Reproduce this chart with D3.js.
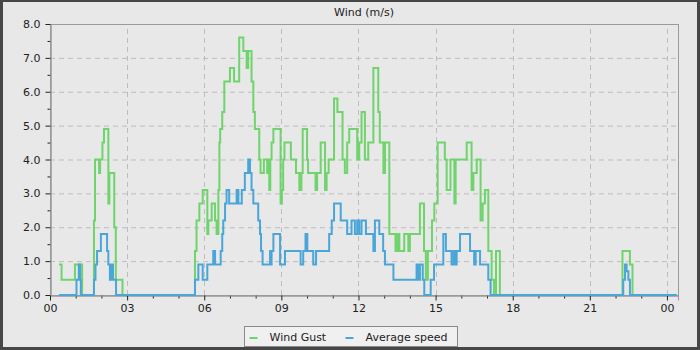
<!DOCTYPE html>
<html>
<head>
<meta charset="utf-8">
<title>Wind (m/s)</title>
<script src="https://d3js.org/d3.v7.min.js"></script>
<style>
html, body { margin: 0; padding: 0; background: #464646; }
svg { display: block; font-family: "DejaVu Sans", sans-serif; }
</style>
</head>
<body>
<div id="chart"></div>
<script>
// hours since 00:00, value in m/s (step changes)
var gustTimes = [0.35, 0.45, 0.97, 1.25, 1.71, 1.75, 1.91, 1.95, 2.04, 2.10, 2.27, 2.31, 2.50, 2.56, 2.82,
  5.64, 5.70, 5.81, 5.94, 6.12, 6.16, 6.29, 6.42, 6.48, 6.55, 6.59, 6.62, 6.70, 6.78, 7.00, 7.16, 7.36, 7.52, 7.65, 7.71, 7.84, 7.91, 7.97,
  8.14, 8.19, 8.32, 8.45, 8.50, 8.53, 8.57, 8.62, 8.69, 8.97, 9.02, 9.07, 9.12, 9.37, 9.57, 9.70, 9.78, 9.83,
  10.00, 10.04, 10.33, 10.39, 10.53, 10.70, 10.76, 10.84, 11.05, 11.18, 11.38, 11.47, 11.56, 11.64, 11.95,
  12.03, 12.12, 12.25, 12.38, 12.58, 12.77, 12.83, 12.97, 13.03, 13.20, 13.44, 13.52, 13.59, 13.78, 13.94, 14.00,
  14.39, 14.55, 14.62, 14.70, 14.86, 14.95, 15.08, 15.36, 15.43, 15.58, 15.73, 15.78, 16.21, 16.40, 16.47, 16.60,
  16.75, 16.83, 16.92, 17.05, 17.18, 17.27, 17.35, 17.50, 22.27, 22.56, 22.66, 24.38];
var gustValues = [0.9, 0.45, 0.9, 0, 2.2, 4.0, 3.6, 4.0, 4.5, 4.9, 2.7, 3.6, 2.0, 0.45, 0,
  1.3, 2.2, 2.7, 3.1, 1.8, 2.2, 2.7, 2.2, 1.8, 3.1, 4.5, 4.9, 5.4, 6.3, 6.7, 6.3, 7.6, 7.2, 6.7, 7.2, 6.3, 5.4, 4.9,
  4.0, 3.6, 4.0, 3.6, 4.0, 3.1, 4.0, 4.5, 4.9, 2.7, 3.1, 4.0, 4.5, 4.0, 3.6, 3.1, 3.6, 4.9,
  4.0, 3.6, 3.1, 3.6, 4.5, 3.1, 3.6, 4.0, 5.8, 5.4, 4.0, 3.6, 4.5, 4.9, 4.0,
  4.5, 5.4, 4.0, 4.5, 6.7, 5.4, 4.5, 3.6, 4.5, 1.8, 1.3, 1.8, 1.3, 1.8, 1.3, 1.8,
  2.7, 1.3, 0.45, 1.3, 2.2, 2.7, 4.5, 4.0, 3.1, 4.0, 2.7, 4.0, 4.5, 3.1, 3.6, 4.0,
  2.2, 2.7, 3.1, 1.3, 0.45, 0, 1.3, 0, 1.3, 0.9, 0, 0];

var avgTimes = [0.35, 1.03, 1.12, 1.17, 1.20, 1.71, 1.77, 1.83, 1.98, 2.22, 2.27, 2.33, 2.39, 2.45, 2.57,
  5.64, 5.77, 5.94, 6.12, 6.35, 6.42, 6.64, 6.70, 6.74, 6.81, 6.87, 6.97, 7.26, 7.33, 7.46, 7.58, 7.71, 7.78, 7.84, 7.91,
  8.10, 8.17, 8.21, 8.27, 8.56, 8.58, 8.62, 8.69, 8.95, 9.14, 9.75, 9.85, 9.94, 10.01, 10.24, 10.35,
  10.86, 10.96, 11.05, 11.31, 11.56, 11.73, 11.86, 11.95, 12.03, 12.12, 12.29, 12.58, 12.64, 12.81, 12.96, 13.03, 13.36,
  14.26, 14.33, 14.39, 14.50, 14.56, 14.81, 14.94, 15.30, 15.40, 15.62, 15.70, 15.75, 15.82, 15.95, 16.34, 16.50, 16.56,
  16.73, 17.05, 17.14, 22.30, 22.37, 22.43, 22.50, 22.56, 24.38];
var avgValues = [0, 0.45, 0.9, 0.45, 0, 0.45, 0.9, 1.3, 1.8, 1.3, 0.9, 0.45, 0.9, 0.45, 0,
  0.45, 0.9, 0.45, 0.9, 1.3, 0.9, 1.3, 1.8, 2.2, 2.7, 3.1, 2.7, 3.1, 2.7, 3.1, 3.6, 4.0, 3.6, 3.1, 2.7,
  2.2, 1.8, 1.3, 0.9, 1.3, 0.9, 1.3, 1.8, 0.9, 1.3, 0.9, 1.3, 1.8, 1.3, 0.9, 1.3,
  1.8, 2.2, 2.7, 2.2, 1.8, 2.2, 1.8, 2.2, 1.8, 2.2, 1.8, 1.3, 2.2, 1.8, 1.3, 0.9, 0.45,
  0.9, 0.45, 0.9, 0.45, 0, 0.45, 0.9, 1.8, 1.3, 0.9, 1.3, 0.9, 1.3, 1.8, 1.3, 0.9, 1.3,
  0.9, 0.45, 0, 0.45, 0.9, 0.7, 0.45, 0, 0];

var xTickHours = [0, 3, 6, 9, 12, 15, 18, 21, 24];
var yTicks = [0, 1, 2, 3, 4, 5, 6, 7, 8];
var seriesNames = ["Wind Gust", "Average speed"];
var seriesColors = ["#6fd46c", "#4aa6d9"];

var width = 700, height = 350;
var margin = {top: 24, right: 22, bottom: 55, left: 50};

var svg = d3.select("#chart").append("svg")
    .attr("width", width)
    .attr("height", height);

// outer frame
svg.append("rect").attr("width", width).attr("height", height).attr("fill", "#464646");
svg.append("rect")
    .attr("x", 3).attr("y", 2)
    .attr("width", width - 6).attr("height", height - 5)
    .attr("fill", "#e8e8e8");

var x = d3.scaleLinear().domain([0, 24.43]).range([margin.left, width - margin.right]);
var y = d3.scaleLinear().domain([0, 8]).range([height - margin.bottom, margin.top]);

// title
svg.append("text")
    .attr("x", (x.range()[0] + x.range()[1]) / 2)
    .attr("y", 16)
    .attr("text-anchor", "middle")
    .attr("font-size", "11px")
    .attr("fill", "#222")
    .text("Wind (m/s)");

// grid
var grid = svg.append("g").attr("class", "grid");
grid.selectAll("line.h").data(yTicks.slice(1))
    .enter().append("line")
    .attr("x1", x.range()[0]).attr("x2", x.range()[1])
    .attr("y1", function(d){ return y(d) + 0.5; })
    .attr("y2", function(d){ return y(d) + 0.5; })
    .attr("stroke", "#bdbdbd")
    .attr("stroke-dasharray", "5,4");
grid.selectAll("line.v").data(xTickHours.slice(1))
    .enter().append("line")
    .attr("x1", function(d){ return Math.round(x(d)) + 0.5; })
    .attr("x2", function(d){ return Math.round(x(d)) + 0.5; })
    .attr("y1", y.range()[0]).attr("y2", y.range()[1])
    .attr("stroke", "#bdbdbd")
    .attr("stroke-dasharray", "5,4");

// plot border
svg.append("rect")
    .attr("x", x.range()[0] + 0.5).attr("y", y.range()[1] + 0.5)
    .attr("width", x.range()[1] - x.range()[0])
    .attr("height", y.range()[0] - y.range()[1])
    .attr("fill", "none")
    .attr("stroke", "#9a9a9a");

// axes
var xAxis = d3.axisBottom(x)
    .tickValues(xTickHours)
    .tickFormat(function(d){ return d3.format("02d")(d % 24); })
    .tickSize(5)
    .tickPadding(4);
var xMinor = d3.axisBottom(x)
    .tickValues(d3.range(0, 25).filter(function(h){ return h % 3 !== 0; }))
    .tickFormat("")
    .tickSize(3);
var yAxis = d3.axisLeft(y)
    .tickValues(yTicks)
    .tickFormat(d3.format(".1f"))
    .tickSize(5)
    .tickPadding(5);
var yMinor = d3.axisLeft(y)
    .tickValues(d3.range(0.5, 8, 1))
    .tickFormat("")
    .tickSize(3);

function styleAxis(g) {
    g.select(".domain").attr("stroke", "#9a9a9a");
    g.selectAll(".tick line").attr("stroke", "#222");
    g.selectAll(".tick text").attr("fill", "#222").attr("font-size", "11px")
        .attr("font-family", "DejaVu Sans, sans-serif");
}

svg.append("g").attr("transform", "translate(0," + (y.range()[0] + 0.5) + ")").call(xMinor).call(styleAxis);
svg.append("g").attr("transform", "translate(0," + (y.range()[0] + 0.5) + ")").call(xAxis).call(styleAxis);
svg.append("g").attr("transform", "translate(" + (x.range()[0] + 0.5) + ",0)").call(yMinor).call(styleAxis);
svg.append("g").attr("transform", "translate(" + (x.range()[0] + 0.5) + ",0)").call(yAxis).call(styleAxis);

// lines
var line = d3.line()
    .x(function(d){ return x(d[0]); })
    .y(function(d){ return y(d[1]); })
    .curve(d3.curveStepAfter);

var series = [d3.zip(gustTimes, gustValues), d3.zip(avgTimes, avgValues)];
svg.append("g").selectAll("path").data(series)
    .enter().append("path")
    .attr("d", line)
    .attr("fill", "none")
    .attr("stroke", function(d, i){ return seriesColors[i]; })
    .attr("stroke-width", 2);

// legend
var legend = svg.append("g").attr("transform", "translate(244.5,326.5)");
legend.append("rect")
    .attr("width", 213).attr("height", 20)
    .attr("fill", "#f0f0f0")
    .attr("stroke", "#8a8a8a");
var itemX = [5, 101];
var items = legend.selectAll("g.item").data(seriesNames)
    .enter().append("g")
    .attr("transform", function(d, i){ return "translate(" + itemX[i] + ",0)"; });
items.append("line")
    .attr("x1", 0).attr("x2", 8)
    .attr("y1", 11.5).attr("y2", 11.5)
    .attr("stroke", function(d, i){ return seriesColors[i]; })
    .attr("stroke-width", 2);
items.append("text")
    .attr("x", 20).attr("y", 14.5)
    .attr("font-size", "11px")
    .attr("fill", "#222")
    .text(function(d){ return d; });
</script>
</body>
</html>
